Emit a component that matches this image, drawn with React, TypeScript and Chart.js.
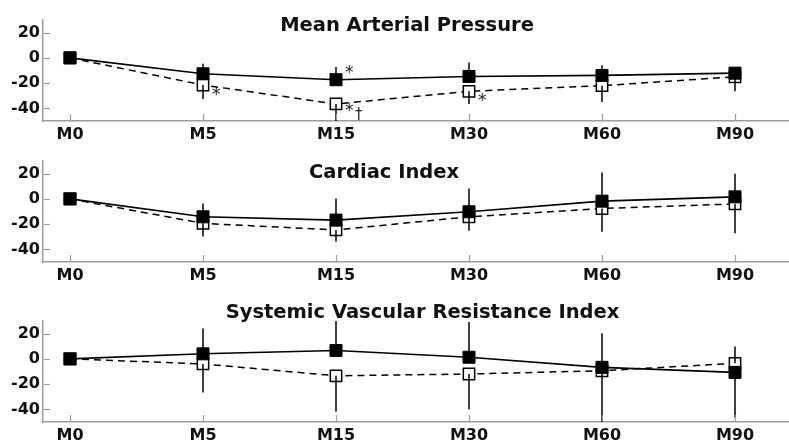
import React, { useEffect, useRef } from 'react';
import { Chart, registerables } from 'chart.js';

Chart.register(...registerables);

// ---------- data ----------
const categories = ['M0', 'M5', 'M15', 'M30', 'M60', 'M90'];
const yTicks = [-40, -20, 0, 20];

const mapFilled = [0, -12.6, -17.3, -14.7, -13.9, -12.1];
const mapFilledSD = [0, 8, 10, 11, 8, 4];
const mapOpen = [0, -21.5, -36.5, -26.5, -22, -15];
const mapOpenSD = [0, 11, 14, 10, 13, 11.5];

const ciFilled = [0, -14.2, -16.8, -10.2, -1.8, 1.6];
const ciFilledSD = [0, 10.6, 17, 18.4, 22.6, 18.4];
const ciOpen = [0, -19.4, -24.6, -14.2, -7.6, -4];
const ciOpenSD = [0, 10.5, 9.3, 11, 18.4, 23.3];

const svriFilled = [0, 4, 6.6, 1.3, -6.7, -10.7];
const svriFilledSD = [0, 20, 24, 28, 27, 36];
const svriOpen = [0, -4, -13.4, -12, -9.4, -3.5];
const svriOpenSD = [0, 22.7, 28.5, 28, 41, 13.3];

// significance marks: which series / time point carries which symbol
const mapMarks = [
  { series: 'open', index: 1, text: '*' },
  { series: 'filled', index: 2, text: '*' },
  { series: 'open', index: 2, text: '*' },
  { series: 'open', index: 2, text: '†' },
  { series: 'open', index: 3, text: '*' },
];

type Mark = { series: string; index: number; text: string };

type Panel = {
  title: string;
  titleX: number;
  titleY: number;
  top: number;
  height: number;
  areaTop: number;
  areaBottom: number;
  filled: number[];
  filledSD: number[];
  open: number[];
  openSD: number[];
  marks: Mark[];
};

const panels: Panel[] = [
  {
    title: 'Mean Arterial Pressure', titleX: 407, titleY: 30.7,
    top: 0, height: 146, areaTop: 20, areaBottom: 121,
    filled: mapFilled, filledSD: mapFilledSD, open: mapOpen, openSD: mapOpenSD, marks: mapMarks,
  },
  {
    title: 'Cardiac Index', titleX: 384, titleY: 178.3,
    top: 146, height: 150, areaTop: 161, areaBottom: 262,
    filled: ciFilled, filledSD: ciFilledSD, open: ciOpen, openSD: ciOpenSD, marks: [],
  },
  {
    title: 'Systemic Vascular Resistance Index', titleX: 422.5, titleY: 318.3,
    top: 296, height: 146, areaTop: 321, areaBottom: 422,
    filled: svriFilled, filledSD: svriFilledSD, open: svriOpen, openSD: svriOpenSD, marks: [],
  },
];

const FONT = 'DejaVu Sans';
const AXIS_GRAY = '#9c9c9c';

// offsets of the symbols relative to their marker (style only)
function markOffset(m: Mark): [number, number] {
  if (m.series === 'filled') return [9, -2];
  if (m.text === '†') return [19, 15];
  if (m.index === 2) return [9, 12];
  return [9, 15];
}

function PanelChart({ p }: { p: Panel }) {
  const ref = useRef<HTMLCanvasElement>(null);
  useEffect(() => {
    const canvas = ref.current!;
    const overlay = {
      id: 'overlay',
      afterDatasetsDraw(chart: any) {
        const { ctx, chartArea: a, scales } = chart;
        const x = scales.x;
        const y = scales.y;
        // error bars
        ctx.save();
        ctx.beginPath();
        ctx.rect(a.left, a.top, a.right - a.left, a.bottom - a.top);
        ctx.clip();
        ctx.strokeStyle = '#000';
        ctx.lineWidth = 1.5;
        categories.forEach((_, i) => {
          const fUp = p.filled[i] >= p.open[i];
          const px = x.getPixelForValue(i);
          const bars: [number, number][] = [
            [p.filled[i], fUp ? p.filled[i] + p.filledSD[i] : p.filled[i] - p.filledSD[i]],
            [p.open[i], fUp ? p.open[i] - p.openSD[i] : p.open[i] + p.openSD[i]],
          ];
          bars.forEach(([v0, v1]) => {
            if (v0 === v1) return;
            ctx.beginPath();
            ctx.moveTo(px, y.getPixelForValue(v0));
            ctx.lineTo(px, y.getPixelForValue(v1));
            ctx.stroke();
          });
        });
        ctx.restore();

        // inward tick marks
        ctx.save();
        ctx.strokeStyle = AXIS_GRAY;
        ctx.lineWidth = 1.2;
        yTicks.forEach((v) => {
          const py = Math.round(y.getPixelForValue(v)) + 0.5;
          ctx.beginPath();
          ctx.moveTo(a.left + 1, py);
          ctx.lineTo(a.left + 7, py);
          ctx.stroke();
        });
        categories.forEach((_, i) => {
          const px = Math.round(x.getPixelForValue(i)) + 0.5;
          ctx.beginPath();
          ctx.moveTo(px, a.bottom - 1);
          ctx.lineTo(px, a.bottom - 7);
          ctx.stroke();
        });
        ctx.restore();

        // significance marks
        ctx.save();
        ctx.fillStyle = '#222';
        ctx.textAlign = 'left';
        ctx.textBaseline = 'alphabetic';
        p.marks.forEach((m) => {
          const v = m.series === 'filled' ? p.filled[m.index] : p.open[m.index];
          const px = x.getPixelForValue(m.index);
          const py = y.getPixelForValue(v);
          const [dx, dy] = markOffset(m);
          ctx.font = m.text === '†' ? `15px ${FONT}` : `17px ${FONT}`;
          ctx.fillText(m.text, px + dx, py + dy);
        });
        ctx.restore();

        // title
        ctx.save();
        ctx.fillStyle = '#111';
        ctx.font = `bold 19.5px ${FONT}`;
        ctx.textAlign = 'center';
        ctx.textBaseline = 'alphabetic';
        ctx.fillText(p.title, p.titleX, p.titleY - p.top);
        ctx.restore();
      },
    };

    const tickFont = { family: FONT, weight: 'bold' as const, size: 16 };
    const chart = new Chart(canvas, {
      type: 'line',
      data: {
        datasets: [
          {
            label: 'filled',
            data: p.filled.map((v, i) => ({ x: i, y: v })),
            borderColor: '#000',
            borderWidth: 1.6,
            pointStyle: 'rect',
            pointRadius: 8.5,
            pointBackgroundColor: '#000',
            pointBorderColor: '#000',
            pointBorderWidth: 1,
            tension: 0,
          },
          {
            label: 'open',
            data: p.open.map((v, i) => ({ x: i, y: v })),
            borderColor: '#000',
            borderWidth: 1.5,
            borderDash: [7, 5],
            pointStyle: 'rect',
            pointRadius: 8,
            pointBackgroundColor: '#fff',
            pointBorderColor: '#000',
            pointBorderWidth: 1.5,
            tension: 0,
          },
        ],
      },
      options: {
        animation: false,
        responsive: false,
        devicePixelRatio: 1,
        layout: { autoPadding: false, padding: { top: p.areaTop - p.top, left: 0, right: 0, bottom: 0 } },
        plugins: { legend: { display: false }, tooltip: { enabled: false }, title: { display: false } },
        events: [],
        scales: {
          x: {
            type: 'linear',
            min: -0.203,
            max: 5.406,
            afterBuildTicks: (s: any) => {
              s.ticks = categories.map((_, i) => ({ value: i }));
            },
            afterFit: (s: any) => {
              s.height = p.top + p.height - p.areaBottom;
              s.paddingLeft = 0;
              s.paddingRight = 0;
            },
            ticks: {
              callback: (v: any) => categories[v as number],
              font: tickFont,
              color: '#111',
              padding: 4,
              autoSkip: false,
              maxRotation: 0,
            },
            grid: { drawOnChartArea: false, drawTicks: false },
            border: { color: AXIS_GRAY, width: 1.5 },
          },
          y: {
            type: 'linear',
            min: -50,
            max: 30,
            afterBuildTicks: (s: any) => {
              s.ticks = yTicks.map((v) => ({ value: v }));
            },
            afterFit: (s: any) => {
              s.width = 43;
              s.paddingTop = 0;
              s.paddingBottom = 0;
            },
            ticks: {
              font: tickFont,
              color: '#111',
              padding: 3,
              autoSkip: false,
            },
            grid: { drawOnChartArea: false, drawTicks: false },
            border: { color: AXIS_GRAY, width: 1.5 },
          },
        },
      },
      plugins: [overlay],
    } as any);
    return () => chart.destroy();
  }, [p]);
  return (
    <canvas
      ref={ref}
      width={789}
      height={p.height}
      style={{ position: 'absolute', left: 0, top: p.top, width: 789, height: p.height }}
    />
  );
}

export default function App() {
  useEffect(() => {
    document.body.style.margin = '0';
    document.body.style.background = '#fff';
  }, []);
  return (
    <div style={{ position: 'relative', width: 789, height: 442, background: '#fff', overflow: 'hidden' }}>
      {panels.map((p) => (
        <PanelChart key={p.title} p={p} />
      ))}
    </div>
  );
}
